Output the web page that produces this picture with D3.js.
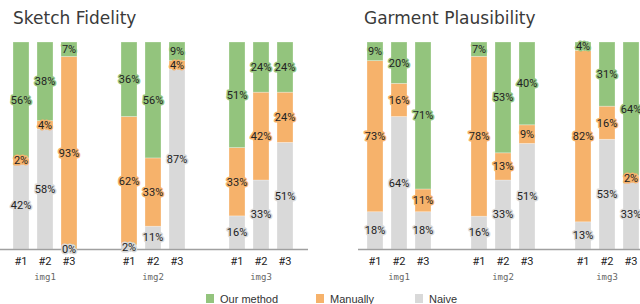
<!DOCTYPE html>
<html>
<head>
<meta charset="utf-8">
<script src="https://cdn.jsdelivr.net/npm/d3@7"></script>
<style>
  body { margin: 0; background: #fff; }
  svg { display: block; }
</style>
</head>
<body>
<svg id="chart" width="640" height="304"></svg>
<script>
// data: percentages per bar
var images = ['img1', 'img2', 'img3'];
var subjects = ['#1', '#2', '#3'];
var seriesKeys = ['naive', 'manual', 'ours'];
var seriesNames = { ours: 'Our method', manual: 'Manually', naive: 'Naive' };

// order: img1 #1..#3, img2 #1..#3, img3 #1..#3
var fidelityOurs   = [56, 38, 7, 36, 56, 9, 51, 24, 24];
var fidelityManual = [2, 4, 93, 62, 33, 4, 33, 42, 24];
var fidelityNaive  = [42, 58, 0, 2, 11, 87, 16, 33, 51];

var plausOurs   = [9, 20, 71, 7, 53, 40, 4, 31, 64];
var plausManual = [73, 16, 11, 78, 13, 9, 82, 16, 2];
var plausNaive  = [18, 64, 18, 16, 33, 51, 13, 53, 33];

var colors = { ours: '#93c47d', manual: '#f6b26b', naive: '#d9d9d9' };

var svg = d3.select('#chart');

function rows(ours, manual, naive) {
    var out = [];
    images.forEach(function (img, gi) {
        subjects.forEach(function (s, si) {
            var i = gi * 3 + si;
            out.push({ img: img, subj: s, ours: ours[i], manual: manual[i], naive: naive[i] });
        });
    });
    return out;
}

var panels = [
    { title: 'Sketch Fidelity', titleX: 13, range: [-9, 315], axis: [0, 308],
      data: rows(fidelityOurs, fidelityManual, fidelityNaive) },
    { title: 'Garment Plausibility', titleX: 364, range: [347, 659], axis: [358, 640],
      data: rows(plausOurs, plausManual, plausNaive) }
];

var y = d3.scaleLinear().domain([0, 1]).range([249, 42]);
var inner = d3.scaleBand().domain(subjects).range([-36, 36]).paddingInner(1 / 3).paddingOuter(1 / 6);

var stack = d3.stack().keys(seriesKeys).offset(d3.stackOffsetExpand);

panels.forEach(function (p) {
    var g = svg.append('g');
    var x0 = d3.scaleBand().domain(images).range(p.range);
    var series = stack(p.data);

    g.append('text')
        .attr('x', p.titleX).attr('y', 24)
        .attr('font-family', 'DejaVu Sans').attr('font-size', 17)
        .attr('fill', '#3a3a3a')
        .text(p.title);

    var xpos = function (d) { return x0(d.img) + x0.bandwidth() / 2 + inner(d.subj); };

    series.forEach(function (s) {
        g.append('g').selectAll('rect')
            .data(s)
            .join('rect')
            .attr('x', function (d) { return xpos(d.data); })
            .attr('width', inner.bandwidth())
            .attr('y', function (d) { return y(d[1]); })
            .attr('height', function (d) { return y(d[0]) - y(d[1]); })
            .attr('fill', colors[s.key])
            .attr('stroke', '#fff').attr('stroke-opacity', 0.35).attr('stroke-width', 0.8);
    });

    g.append('line')
        .attr('x1', p.axis[0]).attr('x2', p.axis[1])
        .attr('y1', 249.5).attr('y2', 249.5)
        .attr('stroke', '#a0a0a0').attr('stroke-width', 1.5);

    series.forEach(function (s) {
        g.append('g').selectAll('text')
            .data(s)
            .join('text')
            .attr('x', function (d) { return xpos(d.data) + inner.bandwidth() / 2; })
            .attr('y', function (d) { return (y(d[0]) + y(d[1])) / 2; })
            .attr('dy', '0.35em')
            .attr('text-anchor', 'middle')
            .attr('font-family', 'Roboto').attr('font-size', 11)
            .attr('fill', '#222')
            .attr('stroke', colors[s.key]).attr('stroke-width', 3)
            .attr('stroke-linejoin', 'round')
            .attr('paint-order', 'stroke')
            .text(function (d) { return d.data[s.key] + '%'; });
    });

    // subject ticks
    g.append('g').selectAll('text')
        .data(p.data)
        .join('text')
        .attr('x', function (d) { return xpos(d) + inner.bandwidth() / 2; })
        .attr('y', 265)
        .attr('text-anchor', 'middle')
        .attr('font-family', 'Roboto').attr('font-size', 11)
        .attr('fill', '#222')
        .text(function (d) { return d.subj; });

    // image group labels
    g.append('g').selectAll('text')
        .data(images)
        .join('text')
        .attr('x', function (d) { return x0(d) + x0.bandwidth() / 2; })
        .attr('y', 280)
        .attr('text-anchor', 'middle')
        .attr('font-family', 'DejaVu Sans Mono').attr('font-size', 9)
        .attr('fill', '#666')
        .text(function (d) { return d; });
});

// legend
var legendKeys = ['ours', 'manual', 'naive'];
var legendX = [206, 316, 415];
var lg = svg.append('g').selectAll('g')
    .data(legendKeys)
    .join('g')
    .attr('transform', function (d, i) { return 'translate(' + legendX[i] + ',294)'; });
lg.append('rect').attr('width', 8).attr('height', 9).attr('fill', function (d) { return colors[d]; });
lg.append('text')
    .attr('x', 14).attr('y', 8.5)
    .attr('font-family', 'Liberation Sans').attr('font-size', 11)
    .attr('fill', '#333')
    .text(function (d) { return seriesNames[d]; });
</script>
</body>
</html>
